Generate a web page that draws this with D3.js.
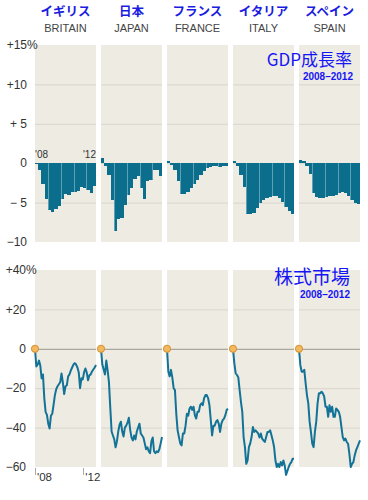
<!DOCTYPE html>
<html>
<head>
<meta charset="utf-8">
<script src="https://cdn.jsdelivr.net/npm/d3@7"></script>
<style>
  body { margin: 0; background: #fff; }
  text { font-family: "Liberation Sans", Arial, sans-serif; }
</style>
</head>
<body>
<div id="chart"></div>
<script>
// Country headers
const namesJa = ["イギリス", "日本", "フランス", "イタリア", "スペイン"];
const namesEn = ["BRITAIN", "JAPAN", "FRANCE", "ITALY", "SPAIN"];

// GDP change vs. start of 2008, quarterly 2008Q1 - 2012Q3 (%)
const gdpBritain = [0, -0.8, -2.6, -4.6, -5.9, -6.2, -5.8, -5.4, -4.6, -3.9, -4.0, -3.7, -3.6, -3.5, -3.0, -3.2, -3.4, -3.8, -2.9];
const gdpJapan   = [0.7, -0.3, -1.5, -4.7, -8.6, -7.1, -7.0, -5.3, -4.0, -3.2, -2.0, -1.6, -3.2, -4.6, -2.2, -2.1, -0.8, -0.8, -1.6];
const gdpFrance  = [0.3, -0.2, -0.9, -2.3, -3.9, -3.9, -3.6, -3.2, -2.6, -2.1, -1.5, -1.0, -0.6, -0.5, -0.4, -0.4, -0.5, -0.4, -0.3];
const gdpItaly   = [0.3, -0.3, -1.5, -3.0, -6.4, -6.5, -6.3, -5.7, -5.1, -4.7, -4.4, -4.3, -4.1, -4.1, -4.4, -4.9, -5.6, -6.1, -6.5];
const gdpSpain   = [0.4, 0.3, -0.3, -1.4, -3.8, -4.3, -4.4, -4.4, -4.3, -4.2, -4.1, -4.0, -3.8, -3.7, -3.8, -4.2, -4.7, -5.0, -5.2];

// Stock market change since start of 2008 (%)
const stockBritain = [0, -9, -8, -6, -8.5, -15, -13, -25, -32, -33.5, -38, -40.5, -34, -33, -28.5, -23.5, -20.5, -19, -18, -17, -12.5, -17, -23, -19, -18.5, -14, -13, -11, -9.5, -8, -7.3, -8, -9.5, -12, -20, -15, -15.5, -12, -10, -12, -16, -13.5, -13, -11.5, -10.5, -9.5, -8.2];
const stockJapan   = [0, -8, -10.5, -13, -6, -11, -17, -30, -42, -44, -46, -50, -47, -42, -38.5, -37, -42, -44.5, -40, -39, -37.5, -35, -41, -45, -46.5, -44, -46, -42, -40, -38, -43, -44, -45, -48, -51, -50, -52, -53, -47, -45, -52, -53, -52, -52.5, -51, -48, -44.8];
const stockFrance  = [0, -11.5, -14, -10.7, -14.5, -20, -21, -33, -41.4, -44.8, -48, -49, -43, -43, -39, -33, -34, -30.3, -29.4, -31, -29.4, -33.7, -35.4, -32, -32, -28.6, -27.7, -28.6, -25, -23.5, -23.5, -25, -28.6, -36, -44, -39, -39, -37, -36.2, -38, -42.2, -38, -36.2, -35.4, -33.7, -31, -30.5];
const stockItaly   = [0, -7.3, -12.4, -13.3, -14.5, -21, -27, -32, -44.8, -49.9, -58.4, -56.7, -49.9, -48, -44.8, -39.7, -42.2, -41.4, -42.2, -43, -45, -43, -45.6, -46.5, -47.3, -44.8, -42.2, -42.2, -41.4, -43.9, -46.5, -50, -56.7, -60, -58.4, -60, -57.5, -59.2, -56.7, -59.2, -64, -62, -60, -58.4, -57.5, -55.8, -55.8];
const stockSpain   = [0, -8.2, -11.6, -11.6, -10.7, -17.5, -23.5, -27.7, -37, -42.2, -48.2, -49.9, -42.2, -37, -27.7, -22.6, -22.6, -21.8, -22.6, -24.3, -29.4, -29.4, -34.5, -28.6, -32, -29.4, -34.5, -34.5, -30.3, -31, -32, -34.5, -39.7, -44.8, -46.5, -45.6, -47.3, -48.2, -53.3, -60, -58.4, -57.5, -54.1, -51.6, -49.9, -48.2, -46.5];

const gdpSeries = [gdpBritain, gdpJapan, gdpFrance, gdpItaly, gdpSpain];
const stockSeries = [stockBritain, stockJapan, stockFrance, stockItaly, stockSpain];

// Axis ticks
const gdpTicks = [15, 10, 5, 0, -5, -10];
const gdpTickLabels = ["+15", "+10", "+ 5", "0", "\u2212 5", "\u221210"];
const stockTicks = [40, 20, 0, -20, -40, -60];
const stockTickLabels = ["+40", "+20", "0", "\u221220", "\u221240", "\u221260"];
const yearTicks = [2008, 2012];
const yearTickLabels = ["'08", "'12"];

// Layout
const width = 368, height = 500;
const panelLeft = 35, panelW = 61, panelStep = 66;
const bg = "#eeebe3", grid = "#d8d5cd", barColor = "#0b6e8d", lineColor = "#137397";

const svg = d3.select("#chart").append("svg")
    .attr("width", width)
    .attr("height", height);

svg.append("rect").attr("width", width).attr("height", height).attr("fill", "#fff");

const panelX = d3.scaleLinear().domain([0, 1]).range([panelLeft, panelLeft + panelStep]);

// Headers
namesJa.forEach((name, i) => {
    const cx = panelX(i) + panelW / 2;
    svg.append("text")
        .attr("x", cx).attr("y", 16)
        .attr("text-anchor", "middle")
        .style("font-family", "'Noto Sans CJK JP', sans-serif")
        .style("font-weight", "bold")
        .style("font-size", "12.5px")
        .attr("fill", "#1c1ce0")
        .text(name);
    svg.append("text")
        .attr("x", cx).attr("y", 31.5)
        .attr("text-anchor", "middle")
        .style("font-size", "11px")
        .attr("fill", "#444")
        .text(namesEn[i]);
});

// ---------- GDP chart ----------
const yGdp = d3.scaleLinear().domain([-10, 15]).range([242, 45]);

gdpSeries.forEach((vals, i) => {
    const x0 = panelX(i);
    const xq = d3.scaleLinear().domain([0, 19]).range([x0, x0 + panelW]);
    const g = svg.append("g");

    g.append("rect")
        .attr("x", x0).attr("y", yGdp(15))
        .attr("width", panelW).attr("height", yGdp(-10) - yGdp(15))
        .attr("fill", bg);

    g.selectAll(".grid").data(gdpTicks.filter(t => t !== 15 && t !== -10))
        .enter().append("line")
        .attr("x1", x0).attr("x2", x0 + panelW)
        .attr("y1", d => yGdp(d) + 0.5).attr("y2", d => yGdp(d) + 0.5)
        .attr("stroke", grid);

    g.selectAll(".bar").data(vals)
        .enter().append("rect")
        .attr("x", (d, k) => xq(k))
        .attr("width", (d, k) => xq(k + 1) - xq(k) + 0.2)
        .attr("y", d => yGdp(Math.max(0, d)))
        .attr("height", d => Math.max(1, Math.abs(yGdp(d) - yGdp(0))))
        .attr("fill", barColor)
        .attr("shape-rendering", "crispEdges");

    // year separators through the bars
    [4, 8, 12, 16].forEach(q => {
        const depth = Math.min(vals[q - 1], vals[q], 0);
        g.append("line")
            .attr("x1", Math.round(xq(q)) + 0.5).attr("x2", Math.round(xq(q)) + 0.5)
            .attr("y1", yGdp(0)).attr("y2", yGdp(depth))
            .attr("stroke", "#fff").attr("stroke-opacity", 0.35);
    });
});

// '08 / '12 labels on the first GDP panel
svg.append("text").attr("x", panelLeft).attr("y", 158)
    .style("font-size", "10px").attr("fill", "#333").text(yearTickLabels[0]);
svg.append("text").attr("x", panelLeft + panelW).attr("y", 158)
    .attr("text-anchor", "end")
    .style("font-size", "10px").attr("fill", "#333").text(yearTickLabels[1]);

gdpTicks.forEach((t, k) => {
    svg.append("text")
        .attr("x", 27).attr("y", yGdp(t)).attr("dy", "0.35em")
        .attr("text-anchor", "end")
        .style("font-size", "12px").attr("fill", "#333")
        .text(gdpTickLabels[k]);
});
svg.append("text").attr("x", 27).attr("y", yGdp(15)).attr("dy", "0.35em")
    .style("font-size", "12px").attr("fill", "#333").text("%");

svg.append("text").attr("x", 352).attr("y", 66)
    .attr("text-anchor", "end")
    .style("font-family", "'Noto Sans CJK JP', sans-serif")
    .style("font-size", "17px").attr("fill", "#1515f5")
    .text("GDP成長率");
svg.append("text").attr("x", 353).attr("y", 80)
    .attr("text-anchor", "end")
    .style("font-family", "'Liberation Sans Narrow', 'Liberation Sans', sans-serif")
    .style("font-weight", "bold")
    .style("font-size", "10px").attr("fill", "#1515f5")
    .text("2008\u20132012");

// ---------- Stock chart ----------
const yStock = d3.scaleLinear().domain([-60, 40]).range([467, 270]);

stockSeries.forEach((vals, i) => {
    const x0 = panelX(i);
    const xs = d3.scaleLinear().domain([0, vals.length - 1]).range([x0, x0 + panelW]);
    const g = svg.append("g");

    g.append("rect")
        .attr("x", x0).attr("y", yStock(40))
        .attr("width", panelW).attr("height", yStock(-60) - yStock(40))
        .attr("fill", bg);

    g.selectAll(".grid").data(stockTicks.filter(t => t !== 40 && t !== -60))
        .enter().append("line")
        .attr("x1", x0).attr("x2", x0 + panelW)
        .attr("y1", d => yStock(d) + 0.5).attr("y2", d => yStock(d) + 0.5)
        .attr("stroke", d => d === 0 ? "#9a9890" : grid);

    const line = d3.line()
        .x((d, k) => xs(k))
        .y(d => yStock(d));

    g.append("path")
        .datum(vals)
        .attr("d", line)
        .attr("fill", "none")
        .attr("stroke", lineColor)
        .attr("stroke-width", 2)
        .attr("stroke-linejoin", "round");

    g.append("circle")
        .attr("cx", xs(0)).attr("cy", yStock(0)).attr("r", 3.6)
        .attr("fill", "#f4b860").attr("stroke", "#d58f2f").attr("stroke-width", 1);
});

stockTicks.forEach((t, k) => {
    svg.append("text")
        .attr("x", 26).attr("y", yStock(t)).attr("dy", "0.35em")
        .attr("text-anchor", "end")
        .style("font-size", "12px").attr("fill", "#333")
        .text(stockTickLabels[k]);
});
svg.append("text").attr("x", 26).attr("y", yStock(40)).attr("dy", "0.35em")
    .style("font-size", "12px").attr("fill", "#333").text("%");

// year axis under the first stock panel
const xYear = d3.scaleLinear().domain([2008, 2013.05]).range([panelLeft, panelLeft + panelW]);
yearTicks.forEach((yr, k) => {
    svg.append("line")
        .attr("x1", Math.round(xYear(yr)) + 0.5).attr("x2", Math.round(xYear(yr)) + 0.5)
        .attr("y1", 468).attr("y2", 475)
        .attr("stroke", "#aaa");
    svg.append("text")
        .attr("x", xYear(yr) + 2).attr("y", 480.5)
        .style("font-size", "11.5px").attr("fill", "#333")
        .text(yearTickLabels[k]);
});

svg.append("text").attr("x", 350).attr("y", 284)
    .attr("text-anchor", "end")
    .style("font-family", "'Noto Sans CJK JP', sans-serif")
    .style("font-size", "19px").attr("fill", "#1515f5")
    .text("株式市場");
svg.append("text").attr("x", 350).attr("y", 297.5)
    .attr("text-anchor", "end")
    .style("font-family", "'Liberation Sans Narrow', 'Liberation Sans', sans-serif")
    .style("font-weight", "bold")
    .style("font-size", "10px").attr("fill", "#1515f5")
    .text("2008\u20132012");
</script>
</body>
</html>
